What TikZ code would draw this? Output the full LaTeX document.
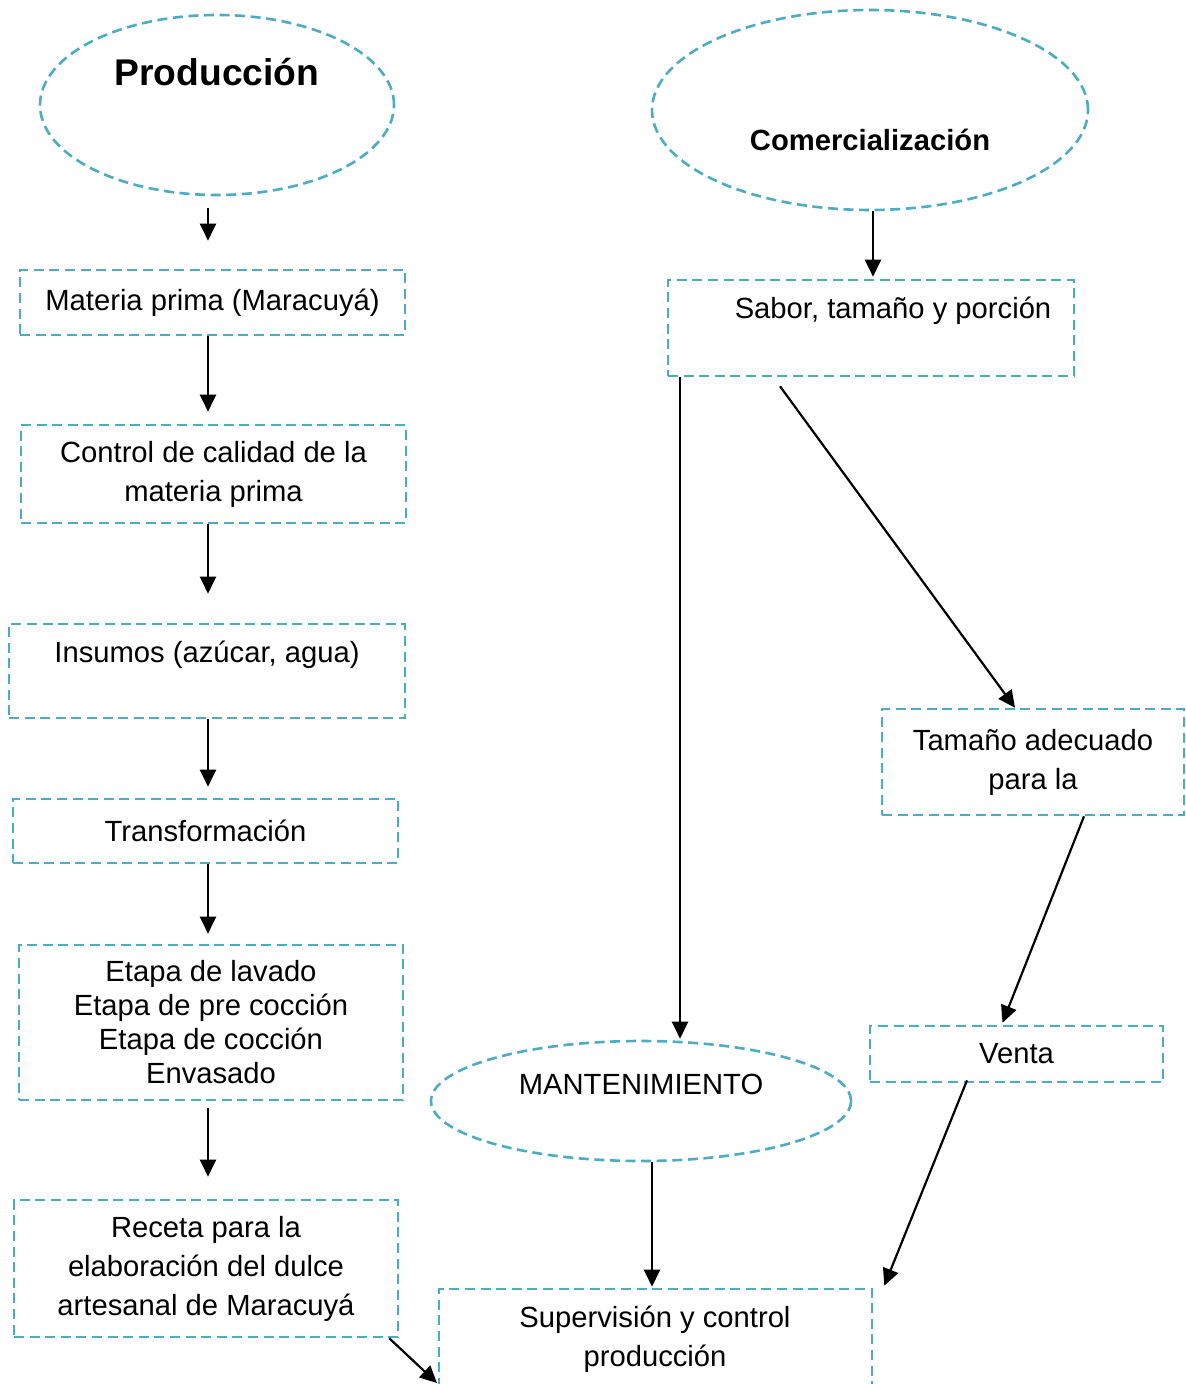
\documentclass[tikz,border=0pt]{standalone}
\usepackage{fontspec}
\setmainfont{Liberation Sans}
\usetikzlibrary{shapes.geometric,arrows.meta}
\definecolor{dashc}{HTML}{4BACC6}
\begin{document}
\begin{tikzpicture}[x=0.5pt,y=-0.5pt,
  box/.style={draw=dashc,line width=1.3pt,dash pattern=on 5pt off 2.8pt,rectangle,inner sep=0pt,align=center,font=\fontsize{14.6}{19.5}\selectfont},
  oval/.style={draw=dashc,line width=1.3pt,dash pattern=on 5pt off 2.8pt,ellipse,inner sep=0pt},
  lbl/.style={inner sep=0pt,align=center,font=\fontsize{14.6}{19.5}\selectfont},
  arr/.style={draw=black,line width=1.1pt,-{Triangle[length=8.5pt,width=8pt]}}]
\useasboundingbox (0,0) rectangle (1185,1384);
\fill[white] (0,0) rectangle (1185,1384);
% left column
\node[oval,minimum width=177pt,minimum height=90pt] (prod) at (217,105) {};
\node[lbl,font=\bfseries\fontsize{18.6}{22}\selectfont] (tprod) at (217,72) {Producción};
\node[box,minimum width=192.5pt,minimum height=32.5pt] (b1) at (212.5,302.5) {Materia prima (Maracuyá)};
\node[box,minimum width=192.5pt,minimum height=49pt] (b2) at (213.5,474) {Control de calidad de la\\materia prima};
\node[box,minimum width=198pt,minimum height=47pt] (b3) at (207,671) {};
\node[lbl] (t3) at (207,655) {Insumos (azúcar, agua)};
\node[box,minimum width=192.5pt,minimum height=32pt] (b4) at (205.5,831) {Transformación};
\node[box,minimum width=192pt,minimum height=77.5pt,font=\fontsize{14.6}{17}\selectfont] (b5) at (211,1022.5) {Etapa de lavado\\Etapa de pre cocción\\Etapa de cocción\\Envasado};
\node[box,minimum width=192pt,minimum height=68.5pt] (b6) at (206,1268.5) {Receta para la\\elaboración del dulce\\artesanal de Maracuyá};
% right column
\node[oval,minimum width=218pt,minimum height=100pt] (com) at (870,110) {};
\node[lbl,font=\bfseries\fontsize{14.6}{18}\selectfont] (tcom) at (870,140) {Comercialización};
\node[box,minimum width=203pt,minimum height=48pt] (b7) at (871,328) {};
\node[lbl] (t7) at (893,311) {Sabor, tamaño y porción};
\node[box,minimum width=151pt,minimum height=53pt] (b8) at (1033,762) {Tamaño adecuado\\para la};
\node[box,minimum width=146.5pt,minimum height=28pt] (b9) at (1016.5,1054) {Venta};
\node[oval,minimum width=210pt,minimum height=60pt] (mant) at (641,1101) {};
\node[lbl] (tmant) at (641,1084) {MANTENIMIENTO};
\node[box,minimum width=216.5pt,minimum height=53pt] (b10) at (655.5,1342) {};
\node[lbl] (t10) at (655,1339) {Supervisión y control\\producción};
% column coordinates
\coordinate (colL) at (208,0);
\coordinate (colR) at (873,0);
\coordinate (colM) at (680,0);
\coordinate (colB) at (652,0);
\coordinate (e7) at (437,1383);
% connectors
\draw[arr,shorten <=6pt,shorten >=14pt] (prod.south -| colL) -- (b1.north -| colL);
\draw[arr,shorten >=6pt] (b1.south -| colL) -- (b2.north -| colL);
\draw[arr,shorten >=14.5pt] (b2.south -| colL) -- (b3.north -| colL);
\draw[arr,shorten >=5.5pt] (b3.south -| colL) -- (b4.north -| colL);
\draw[arr,shorten >=5pt] (b4.south -| colL) -- (b5.north -| colL);
\draw[arr,shorten <=3.5pt,shorten >=11pt] (b5.south -| colL) -- (b6.north -| colL);
\draw[arr] ([xshift=-5pt]b6.south east) -- (e7);
\draw[arr,shorten >=1pt] (com.south -| colR) -- (b7.north -| colR);
\draw[arr,shorten >=0.5pt] (b7.south -| colM) -- (mant.north -| colM);
\draw[arr] ([xshift=-45.5pt,yshift=-4.5pt]b7.south) -- ([xshift=-9pt]b8.north);
\draw[arr] ([xshift=25.5pt]b8.south) -- ([xshift=-7pt,yshift=1pt]b9.north);
\draw[arr] ([xshift=-24.75pt,yshift=1.5pt]b9.south) -- ([xshift=5.5pt,yshift=1pt]b10.north east);
\draw[arr,shorten >=0.5pt] (mant.south -| colB) -- (b10.north -| colB);
\end{tikzpicture}
\end{document}
